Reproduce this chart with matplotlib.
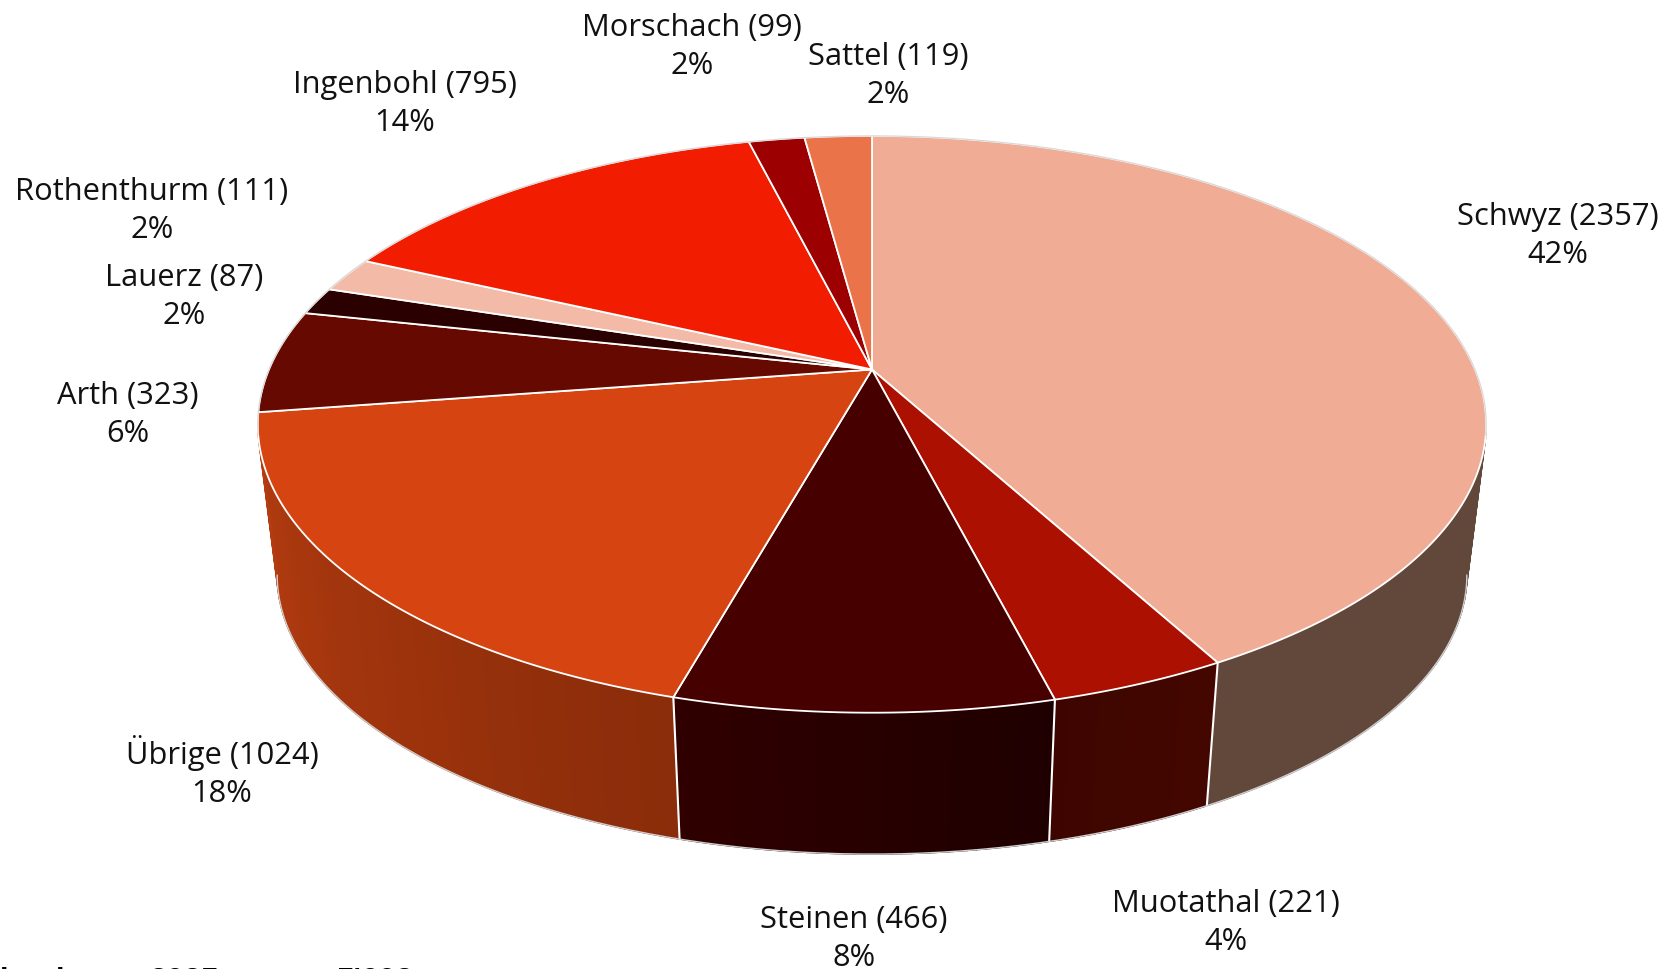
import numpy as np
from matplotlib import pyplot as plt
from matplotlib.colors import to_rgb
from matplotlib.patches import Polygon

names = ['Schwyz', 'Muotathal', 'Steinen', 'Übrige', 'Arth', 'Lauerz',
         'Rothenthurm', 'Ingenbohl', 'Morschach', 'Sattel']
counts = [2357, 221, 466, 1024, 323, 87, 111, 795, 99, 119]
percents = [42, 4, 8, 18, 6, 2, 2, 14, 2, 2]
top_colors = ['#F0AC94', '#AB1000', '#470000', '#D64412', '#660900',
              '#2B0000', '#F4BAA8', '#F21D00', '#9C0000', '#EB734A']
# wall shade at the start and at the end of each slice (clockwise)
wall_start = ['#62473B', '#440700', '#1F0000', '#8A2C0A', '#400600',
              '#1B0000', '#99755F', '#A01400', '#600000', '#94482E']
wall_end = ['#62473B', '#3E0500', '#300000', '#B53C10', '#400600',
            '#1B0000', '#99755F', '#A01400', '#600000', '#94482E']
label_pos = [(1558, 236), (1226, 923), (854, 939), (222, 772), (128, 415),
             (184, 297), (152, 211), (405, 104), (692, 47), (888, 76)]
# only the upper edge of this bottom line is left inside the picture
foot_text = ['l', 'l', '2025', "5'602"]
foot_x = [0, 56, 150, 337]

W, H = 1674, 970
TILT = 0.19
WALL_FROM, WALL_TO = np.radians(101), np.radians(259)


def project(theta, x0, y0, a, b):
    # theta clockwise from the top, perspective makes the far side smaller
    d = 1 + TILT * np.cos(theta)
    return x0 + b * np.sin(theta) / d, y0 - a * np.cos(theta) / d


def top_rim(theta):
    return project(theta, 872, 370.5, 278, 603)


def low_rim(theta):
    return project(theta, 872, 523, 269, 584)


def mix(c1, c2, f):
    a = np.array(to_rgb(c1))
    b = np.array(to_rgb(c2))
    return a + (b - a) * f


fig = plt.figure(figsize=(W / 100, H / 100), dpi=100)
ax = fig.add_axes([0, 0, 1, 1])
ax.set_xlim(0, W)
ax.set_ylim(H, 0)
ax.axis('off')

edges = np.concatenate([[0], np.cumsum(counts)]) / sum(counts) * 2 * np.pi

# side wall, only the front shows
for i in range(len(counts)):
    t0, t1 = edges[i], edges[i + 1]
    lo, hi = max(t0, WALL_FROM), min(t1, WALL_TO)
    if lo >= hi:
        continue
    n = 40
    ts = np.linspace(lo, hi, n + 1)
    for j in range(n):
        seg = np.linspace(ts[j], ts[j + 1], 4)
        tx, ty = top_rim(seg)
        bx, by = low_rim(seg[::-1])
        pts = np.column_stack([np.r_[tx, bx], np.r_[ty, by]])
        c = mix(wall_start[i], wall_end[i], (j + 0.5) / n)
        ax.add_patch(Polygon(pts, closed=True, fc=c, ec=c, lw=1.0, zorder=2))

for t in edges:
    if WALL_FROM < t < WALL_TO:
        ax.plot([top_rim(t)[0], low_rim(t)[0]], [top_rim(t)[1], low_rim(t)[1]],
                color='white', lw=1.5, zorder=3)

# outline of the wall
front = np.linspace(WALL_FROM, WALL_TO, 300)
lx, ly = low_rim(front)
ax.plot(lx, ly, color='#d0d0d0', lw=1.0, zorder=3)

# top face
for i in range(len(counts)):
    ts = np.linspace(edges[i], edges[i + 1], 200)
    rx, ry = top_rim(ts)
    pts = np.column_stack([np.r_[872, rx], np.r_[370.5, ry]])
    ax.add_patch(Polygon(pts, closed=True, fc=top_colors[i], ec='white', lw=1.3,
                         joinstyle='round', zorder=4))

# grey line round the far side of the pie, white at the front stays
back = np.linspace(WALL_TO - np.radians(2), 2 * np.pi + WALL_FROM + np.radians(2), 500)
rx, ry = top_rim(back)
ax.plot(rx, ry, color='#d8d8d8', lw=0.9, zorder=5)

# labels
for name, count, pct, (x, y) in zip(names, counts, percents, label_pos):
    ax.text(x, y, f'{name} ({count})\n{pct}%', ha='center', va='center',
            fontsize=22.2, family='Open Sans', color='#111111',
            linespacing=1.34, zorder=6)

for s, x in zip(foot_text, foot_x):
    ax.text(x, 990.5, s, ha='left', va='baseline', fontsize=22.5,
            family='Liberation Sans', fontweight='bold', color='black', zorder=6)

fig.savefig('out.png', dpi=100)
